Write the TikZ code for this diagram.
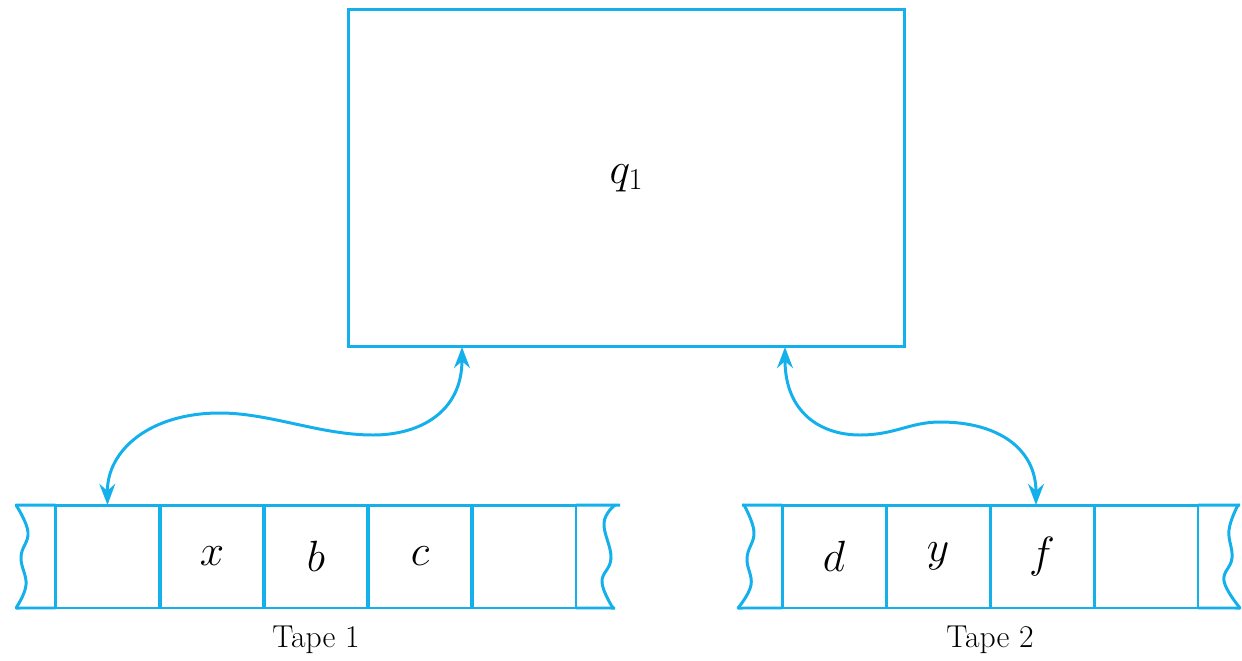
\documentclass[tikz,border=0pt]{standalone}
\usetikzlibrary{arrows.meta,calc}
\definecolor{tapeblue}{RGB}{20,176,236}
\begin{document}
\begin{tikzpicture}[x=0.02cm,y=-0.02cm,
  line width=1.7pt,
  tapeline/.style={draw=tapeblue,line width=1.7pt},
  cellbox/.style={draw=tapeblue,rectangle,inner sep=0pt,outer sep=0pt,minimum width=2.08cm,minimum height=2.06cm,font=\fontsize{23}{27}\selectfont},
  ctrlbox/.style={draw=tapeblue,rectangle,inner sep=0pt,outer sep=0pt,minimum width=11.14cm,minimum height=6.76cm,font=\fontsize{23}{27}\selectfont},
  tapelabel/.style={inner sep=0pt,font=\fontsize{18}{22}\selectfont},
  headarrow/.style={draw=tapeblue,line width=1.7pt,{Stealth[length=12pt,width=9pt]}-{Stealth[length=12pt,width=9pt]}}
]
\useasboundingbox (0,0) rectangle (1242,660);

% control unit
\node[ctrlbox] (box) at (626.5,178) {$q_{\scriptstyle 1}$};

% tape 1
\node[cellbox] (a1) at (107.5,556.5) {};
\node[cellbox] (a2) at (212,556.5) {$x$};
\node[cellbox] (a3) at (316,556.5) {$b$};
\node[cellbox] (a4) at (420,556.5) {$c$};
\node[cellbox] (a5) at (524,556.5) {};
\coordinate (a1l) at (16,505);
\coordinate (a1lb) at (16,608);
\coordinate (a5r) at (620,505);
\coordinate (a5rb) at (615,608);
\draw[tapeline] (a1l) -- (a1.north west);
\draw[tapeline] (a1lb) -- (a1.south west);
\draw[tapeline] (a5.north east) -- (a5r);
\draw[tapeline] (a5.south east) -- (a5rb);
\draw[tapeline,line cap=round] plot[smooth,tension=0.7] coordinates {(16,505) (28,532) (21,557) (26,585) (16,608)};
\draw[tapeline,line cap=round] plot[smooth,tension=0.7] coordinates {(615,505) (604,523) (611,558) (602,582) (613,608)};
\node[tapelabel] (t1) at (316,640) {Tape 1};

% tape 2
\node[cellbox] (b1) at (834,556.5) {$d$};
\node[cellbox] (b2) at (938,556.5) {$y$};
\node[cellbox] (b3) at (1042,556.5) {$f$};
\node[cellbox] (b4) at (1146,556.5) {};
\coordinate (b1l) at (742,505);
\coordinate (b1lb) at (738,608);
\coordinate (b4r) at (1240,505);
\coordinate (b4rb) at (1240,608);
\draw[tapeline] (b1l) -- (b1.north west);
\draw[tapeline] (b1lb) -- (b1.south west);
\draw[tapeline] (b4.north east) -- (b4r);
\draw[tapeline] (b4.south east) -- (b4rb);
\draw[tapeline,line cap=round] plot[smooth,tension=0.7] coordinates {(744,505) (754,532) (747,558) (751,585) (738,608)};
\draw[tapeline,line cap=round] plot[smooth,tension=0.7] coordinates {(1238,505) (1229,530) (1232,558) (1224,581) (1240,608)};
\node[tapelabel] (t2) at (990,640) {Tape 2};

% head connectors
\coordinate (h1) at ($(box.south)+(-164.5,0)$);
\coordinate (h2) at ($(box.south)+(158.5,0)$);
\draw[headarrow] (h1) .. controls +(0,65) and (420,435) .. (373,435)
   .. controls (320,435) and (270,413) .. (220,413)
   .. controls (150,413) and (107,450) .. (a1.north);
\draw[headarrow] (h2) .. controls +(0,65) and (820,435) .. (860,435)
   .. controls (895,435) and (910,422) .. (940,422)
   .. controls (1000,422) and ($(b3.north)+(-6,-55)$) .. ($(b3.north)+(-6,0)$);
\end{tikzpicture}
\end{document}
